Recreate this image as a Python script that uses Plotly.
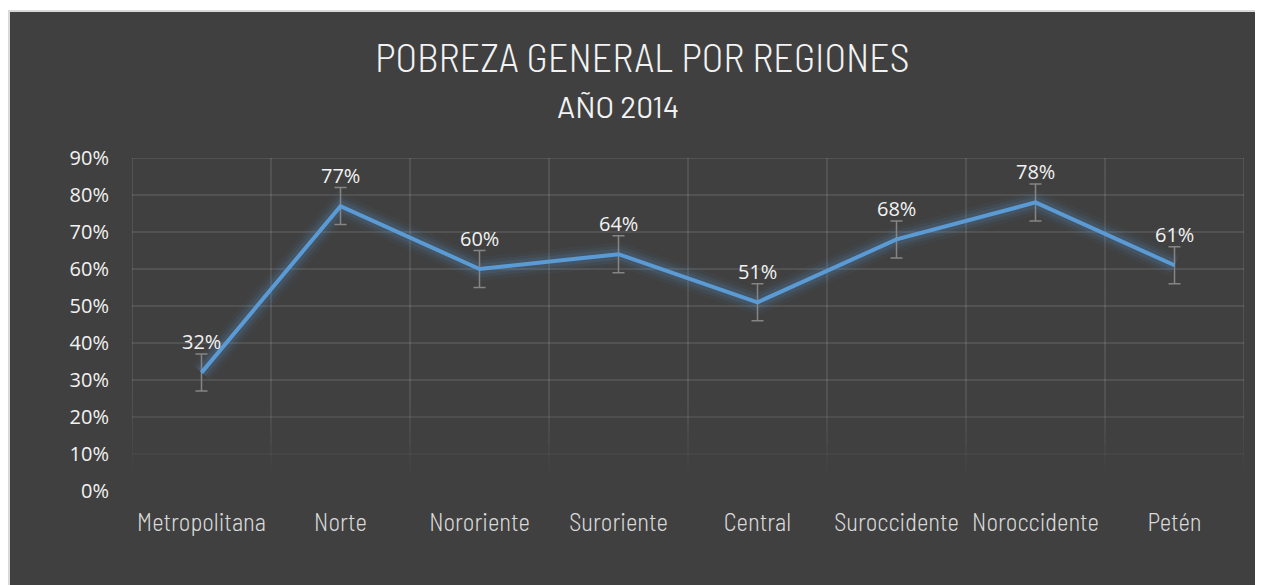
import plotly.graph_objects as go

regions = ["Metropolitana", "Norte", "Nororiente", "Suroriente", "Central",
           "Suroccidente", "Noroccidente", "Petén"]
poverty = [0.32, 0.77, 0.60, 0.64, 0.51, 0.68, 0.78, 0.61]
err = [0.05] * len(regions)
y_ticks = [0, 0.1, 0.2, 0.3, 0.4, 0.5, 0.6, 0.7, 0.8, 0.9]
title_text = "POBREZA GENERAL POR REGIONES"
subtitle_text = "AÑO 2014"

# figure size (page adds an 8px body margin)
W, H = 1255, 577
L, R, T, B = 124, 19, 150, 94
pw, ph = W - L - R, H - T - B

def px_x(p):
    return (p - L) / pw

def px_y(p):
    return (H - B - p) / ph

fig = go.Figure()

# dark chart area with light border (first, so everything draws above it)
fig.add_shape(type="rect", xref="paper", yref="paper", layer="below",
              x0=px_x(1), x1=px_x(1300), y0=px_y(620), y1=px_y(3),
              fillcolor="#404040", line=dict(color="#D9D9D9", width=2))

# fading gridlines (Excel gradient look)
def grid_alpha(v):
    return 0.13 * max(0.0, min(1.0, (v - 0.03) / 0.22))

n = len(regions)
for v in y_ticks:
    a = grid_alpha(v)
    if a > 0:
        fig.add_shape(type="line", xref="x", yref="y", x0=-0.5, x1=n - 0.5, y0=v, y1=v,
                      layer="below", line=dict(color=f"rgba(255,255,255,{a:.3f})", width=1.5))
steps = [i * 0.025 for i in range(37)]
for k in range(n + 1):
    xb = k - 0.5
    for s0, s1 in zip(steps[:-1], steps[1:]):
        a = grid_alpha((s0 + s1) / 2)
        if a > 0:
            fig.add_shape(type="line", xref="x", yref="y", x0=xb, x1=xb, y0=s0, y1=s1,
                          layer="below", line=dict(color=f"rgba(255,255,255,{a:.3f})", width=1.5))

# glow
for w, a in [(24, 0.05), (17, 0.08), (11, 0.13)]:
    fig.add_trace(go.Scatter(x=regions, y=poverty, mode="lines",
                             line=dict(color=f"rgba(91,155,213,{a})", width=w),
                             hoverinfo="skip", showlegend=False))

fig.add_trace(go.Scatter(
    x=regions, y=poverty, mode="lines",
    line=dict(color="#5B9BD5", width=4),
    error_y=dict(type="data", array=err, color="#858585", thickness=1.5, width=6),
    showlegend=False))

for r, v in zip(regions, poverty):
    fig.add_annotation(x=r, y=v, text=f"{round(v*100)}%", showarrow=False,
                       yshift=31, font=dict(family="Open Sans", size=20, color="#F2F2F2"))

fig.add_annotation(xref="paper", yref="paper", x=px_x(634), y=px_y(48), text=title_text,
                   showarrow=False, xanchor="center", yanchor="middle",
                   font=dict(family="Barlow Semi Condensed Light", size=40, color="#F2F2F2"))
fig.add_annotation(xref="paper", yref="paper", x=px_x(610), y=px_y(98), text=subtitle_text,
                   showarrow=False, xanchor="center", yanchor="middle",
                   font=dict(family="Barlow", size=30, color="#F2F2F2"))

fig.update_layout(
    width=W, height=H,
    margin=dict(l=L, r=R, t=T, b=B),
    paper_bgcolor="white", plot_bgcolor="rgba(0,0,0,0)",
    xaxis=dict(type="category", range=[-0.5, n - 0.5], showgrid=False,
               ticks="", showline=False, zeroline=False, automargin=False, tickangle=0,
               ticklabelstandoff=14,
               tickfont=dict(family="Barlow Semi Condensed Light", size=24.5, color="#D9D9D9")),
    yaxis=dict(range=[0, 0.9], tickvals=y_ticks, tickformat=".0%", showgrid=False, automargin=False,
               zeroline=False, ticks="", ticklabelstandoff=22,
               tickfont=dict(family="Open Sans", size=20, color="#F2F2F2")),
)

fig.write_html("out.html")
